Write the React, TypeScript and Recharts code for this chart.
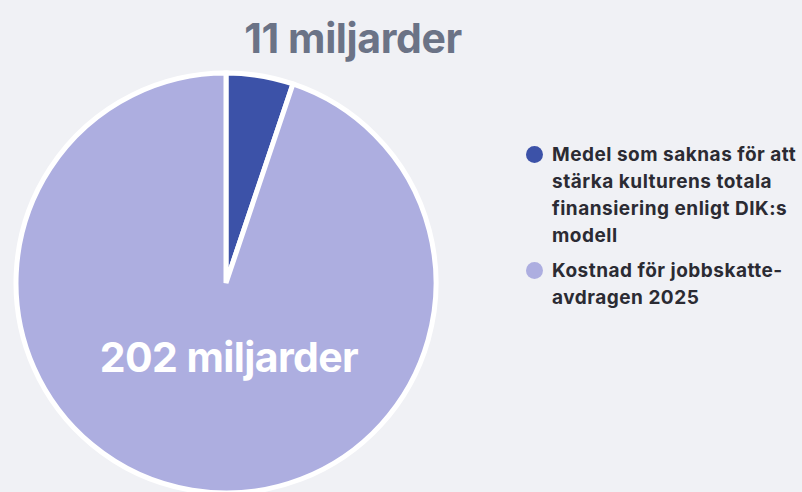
import React from "react";
import { Cell, Legend, Pie, PieChart } from "recharts";

const categories = [
  "Medel som saknas för att stärka kulturens totala finansiering enligt DIK:s modell",
  "Kostnad för jobbskatte-avdragen 2025",
];
const values = [11, 202];
const valueLabels = ["11 miljarder", "202 miljarder"];
const colors = ["#3c52a8", "#adaee0"];

const data = categories.map((name, i) => ({ name, value: values[i], label: valueLabels[i] }));

const FONT = "Inter, 'Noto Sans', sans-serif";

function renderLabel(props: any) {
  const { cx, cy, outerRadius, index } = props;
  if (index === 0) {
    return (
      <text
        x={cx + 127}
        y={cy - outerRadius - 20}
        textAnchor="middle"
        fill="#6b7386"
        fontSize={41}
        fontWeight={700}
        letterSpacing={-0.4}
        fontFamily={FONT}
      >
        {valueLabels[0]}
      </text>
    );
  }
  return (
    <text
      x={cx + 3}
      y={cy + 89}
      textAnchor="middle"
      fill="#ffffff"
      fontSize={41}
      fontWeight={700}
      letterSpacing={-0.6}
      fontFamily={FONT}
    >
      {valueLabels[1]}
    </text>
  );
}

function LegendContent() {
  return (
    <div style={{ fontFamily: FONT, width: 280 }}>
      {data.map((d, i) => (
        <div
          key={d.name}
          style={{
            display: "flex",
            alignItems: "flex-start",
            marginBottom: 8,
          }}
        >
          <span
            style={{
              width: 17,
              height: 17,
              borderRadius: "50%",
              background: colors[i],
              flex: "none",
              marginTop: 5,
              marginRight: 9,
            }}
          />
          <span
            style={{
              fontSize: 19,
              fontWeight: 700,
              lineHeight: "27px",
              color: "#2b2b33",
              letterSpacing: 0.5,
              width: 254,
            }}
          >
            {d.name}
          </span>
        </div>
      ))}
    </div>
  );
}

export default function App() {
  return (
    <div
      style={{
        position: "fixed",
        left: 0,
        top: 0,
        width: 802,
        height: 492,
        background: "#f0f1f5",
        overflow: "hidden",
      }}
    >
      <PieChart width={802} height={492} margin={{ top: 0, right: 0, bottom: 0, left: 0 }}>
        <Pie
          data={data}
          dataKey="value"
          nameKey="name"
          cx={226}
          cy={283}
          outerRadius={210}
          startAngle={90}
          endAngle={-270}
          stroke="#ffffff"
          strokeWidth={5}
          label={renderLabel}
          labelLine={false}
          isAnimationActive={false}
        >
          {data.map((d, i) => (
            <Cell key={d.name} fill={colors[i]} />
          ))}
        </Pie>
        <Legend
          layout="vertical"
          align="right"
          verticalAlign="top"
          content={<LegendContent />}
          wrapperStyle={{ top: 141, left: 526, width: 276 }}
        />
      </PieChart>
    </div>
  );
}
